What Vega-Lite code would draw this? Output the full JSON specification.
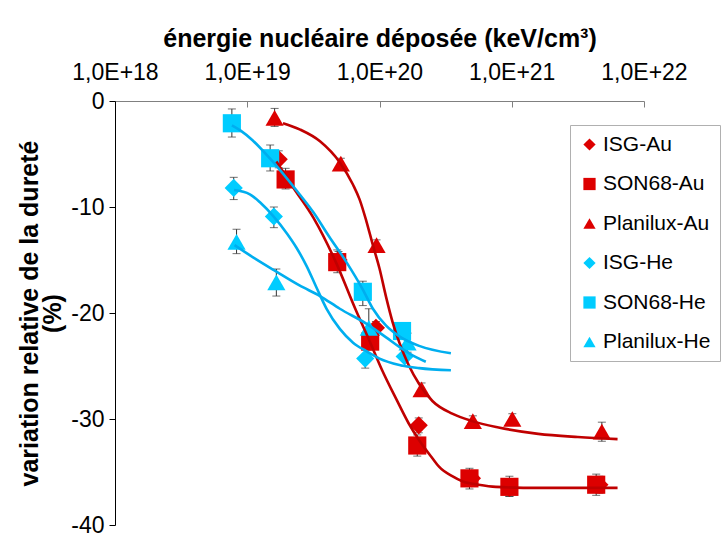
{
  "$schema": "https://vega.github.io/schema/vega-lite/v6.json",
  "width": 529,
  "height": 424,
  "autosize": {"type": "none"},
  "padding": {"left": 115, "top": 101, "right": 84, "bottom": 18},
  "background": "white",
  "config": {"view": {"stroke": null}, "font": "Liberation Sans"},
  "datasets": {
    "pts": [
      {"serie": "ISG-Au", "x": 1.73e19, "y": -5.5, "lo": -6.3, "hi": -4.7},
      {"serie": "ISG-Au", "x": 4.9e19, "y": -15.0, "lo": -15.8, "hi": -14.2},
      {"serie": "ISG-Au", "x": 9.4e19, "y": -21.4, "lo": -22.1, "hi": -20.8},
      {"serie": "ISG-Au", "x": 1.98e20, "y": -30.6, "lo": -31.3, "hi": -29.9},
      {"serie": "ISG-Au", "x": 5.0e20, "y": -35.6, "lo": -36.3, "hi": -34.9},
      {"serie": "ISG-Au", "x": 9.6e20, "y": -36.5, "lo": -37.3, "hi": -35.7},
      {"serie": "ISG-Au", "x": 4.6e21, "y": -36.2, "lo": -37.0, "hi": -35.4},
      {"serie": "SON68-Au", "x": 1.95e19, "y": -7.4, "lo": -8.3, "hi": -6.35},
      {"serie": "SON68-Au", "x": 4.79e19, "y": -15.2, "lo": -16.2, "hi": -14.05},
      {"serie": "SON68-Au", "x": 8.5e19, "y": -22.7, "lo": -23.5, "hi": -21.8},
      {"serie": "SON68-Au", "x": 1.93e20, "y": -32.5, "lo": -33.5, "hi": -31.5},
      {"serie": "SON68-Au", "x": 4.79e20, "y": -35.6, "lo": -36.6, "hi": -34.65},
      {"serie": "SON68-Au", "x": 9.6e20, "y": -36.4, "lo": -37.3, "hi": -35.4},
      {"serie": "SON68-Au", "x": 4.35e21, "y": -36.2, "lo": -37.2, "hi": -35.2},
      {"serie": "Planilux-Au", "x": 1.61e19, "y": -1.6, "lo": -2.4, "hi": -0.7},
      {"serie": "Planilux-Au", "x": 5.1e19, "y": -5.9, "lo": -6.4, "hi": -5.4},
      {"serie": "Planilux-Au", "x": 9.5e19, "y": -13.6, "lo": -14.1, "hi": -13.1},
      {"serie": "Planilux-Au", "x": 2.08e20, "y": -27.2, "lo": -27.8, "hi": -26.6},
      {"serie": "Planilux-Au", "x": 5.08e20, "y": -30.2, "lo": -30.7, "hi": -29.7},
      {"serie": "Planilux-Au", "x": 1.01e21, "y": -30.0, "lo": -30.5, "hi": -29.5},
      {"serie": "Planilux-Au", "x": 4.8e21, "y": -31.2, "lo": -32.1, "hi": -30.3},
      {"serie": "ISG-He", "x": 7.9e18, "y": -8.2, "lo": -9.3, "hi": -7.2},
      {"serie": "ISG-He", "x": 1.59e19, "y": -10.9, "lo": -11.95, "hi": -10.0},
      {"serie": "ISG-He", "x": 7.8e19, "y": -24.3, "lo": -25.2, "hi": -23.4},
      {"serie": "ISG-He", "x": 1.55e20, "y": -24.1, "lo": -25.0, "hi": -23.2},
      {"serie": "SON68-He", "x": 7.65e18, "y": -2.1, "lo": -3.4, "hi": -0.75},
      {"serie": "SON68-He", "x": 1.49e19, "y": -5.4, "lo": -6.6, "hi": -4.15},
      {"serie": "SON68-He", "x": 7.48e19, "y": -18.0, "lo": -19.3, "hi": -17.0},
      {"serie": "SON68-He", "x": 1.48e20, "y": -21.7, "lo": -22.5, "hi": -20.9},
      {"serie": "Planilux-He", "x": 8.3e18, "y": -13.3, "lo": -14.4, "hi": -12.1},
      {"serie": "Planilux-He", "x": 1.66e19, "y": -17.1, "lo": -18.4, "hi": -15.85},
      {"serie": "Planilux-He", "x": 8.3e19, "y": -21.4, "lo": -23.2, "hi": -19.6},
      {"serie": "Planilux-He", "x": 1.63e20, "y": -22.8, "lo": -23.7, "hi": -21.9}
    ],
    "fits": [
      {"fit": "PAu", "grp": "Au", "x": 1.862e19, "y": -2.1},
      {"fit": "PAu", "grp": "Au", "x": 2.512e19, "y": -2.7},
      {"fit": "PAu", "grp": "Au", "x": 3.548e19, "y": -3.8},
      {"fit": "PAu", "grp": "Au", "x": 5.012e19, "y": -5.8},
      {"fit": "PAu", "grp": "Au", "x": 6.310e19, "y": -7.9},
      {"fit": "PAu", "grp": "Au", "x": 7.079e19, "y": -9.3},
      {"fit": "PAu", "grp": "Au", "x": 7.943e19, "y": -11.3},
      {"fit": "PAu", "grp": "Au", "x": 8.913e19, "y": -13.6},
      {"fit": "PAu", "grp": "Au", "x": 1.0e20, "y": -15.8},
      {"fit": "PAu", "grp": "Au", "x": 1.122e20, "y": -18.5},
      {"fit": "PAu", "grp": "Au", "x": 1.259e20, "y": -20.9},
      {"fit": "PAu", "grp": "Au", "x": 1.413e20, "y": -22.8},
      {"fit": "PAu", "grp": "Au", "x": 1.660e20, "y": -24.9},
      {"fit": "PAu", "grp": "Au", "x": 1.995e20, "y": -26.7},
      {"fit": "PAu", "grp": "Au", "x": 2.512e20, "y": -28.3},
      {"fit": "PAu", "grp": "Au", "x": 3.548e20, "y": -29.5},
      {"fit": "PAu", "grp": "Au", "x": 5.012e20, "y": -30.2},
      {"fit": "PAu", "grp": "Au", "x": 7.943e20, "y": -30.8},
      {"fit": "PAu", "grp": "Au", "x": 1.585e21, "y": -31.4},
      {"fit": "PAu", "grp": "Au", "x": 3.162e21, "y": -31.7},
      {"fit": "PAu", "grp": "Au", "x": 6.310e21, "y": -31.9},
      {"fit": "SAu", "grp": "Au", "x": 1.660e19, "y": -5.7},
      {"fit": "SAu", "grp": "Au", "x": 2.239e19, "y": -8.2},
      {"fit": "SAu", "grp": "Au", "x": 3.162e19, "y": -11.0},
      {"fit": "SAu", "grp": "Au", "x": 4.677e19, "y": -15.2},
      {"fit": "SAu", "grp": "Au", "x": 6.607e19, "y": -19.7},
      {"fit": "SAu", "grp": "Au", "x": 8.318e19, "y": -22.5},
      {"fit": "SAu", "grp": "Au", "x": 1.047e20, "y": -25.4},
      {"fit": "SAu", "grp": "Au", "x": 1.349e20, "y": -28.2},
      {"fit": "SAu", "grp": "Au", "x": 1.660e20, "y": -30.4},
      {"fit": "SAu", "grp": "Au", "x": 1.995e20, "y": -32.0},
      {"fit": "SAu", "grp": "Au", "x": 2.512e20, "y": -33.7},
      {"fit": "SAu", "grp": "Au", "x": 2.818e20, "y": -34.5},
      {"fit": "SAu", "grp": "Au", "x": 3.548e20, "y": -35.4},
      {"fit": "SAu", "grp": "Au", "x": 4.266e20, "y": -35.9},
      {"fit": "SAu", "grp": "Au", "x": 5.623e20, "y": -36.2},
      {"fit": "SAu", "grp": "Au", "x": 7.586e20, "y": -36.4},
      {"fit": "SAu", "grp": "Au", "x": 1.585e21, "y": -36.5},
      {"fit": "SAu", "grp": "Au", "x": 6.310e21, "y": -36.5},
      {"fit": "SHe", "grp": "He", "x": 7.656e18, "y": -2.3},
      {"fit": "SHe", "grp": "He", "x": 8.913e18, "y": -2.8},
      {"fit": "SHe", "grp": "He", "x": 1.096e19, "y": -3.7},
      {"fit": "SHe", "grp": "He", "x": 1.479e19, "y": -5.4},
      {"fit": "SHe", "grp": "He", "x": 2.344e19, "y": -8.4},
      {"fit": "SHe", "grp": "He", "x": 3.162e19, "y": -10.5},
      {"fit": "SHe", "grp": "He", "x": 4.169e19, "y": -12.8},
      {"fit": "SHe", "grp": "He", "x": 5.623e19, "y": -15.2},
      {"fit": "SHe", "grp": "He", "x": 7.413e19, "y": -17.7},
      {"fit": "SHe", "grp": "He", "x": 8.913e19, "y": -19.6},
      {"fit": "SHe", "grp": "He", "x": 1.122e20, "y": -21.2},
      {"fit": "SHe", "grp": "He", "x": 1.413e20, "y": -22.2},
      {"fit": "SHe", "grp": "He", "x": 1.995e20, "y": -23.1},
      {"fit": "SHe", "grp": "He", "x": 3.467e20, "y": -23.8},
      {"fit": "IHe", "grp": "He", "x": 7.943e18, "y": -8.4},
      {"fit": "IHe", "grp": "He", "x": 1.047e19, "y": -8.8},
      {"fit": "IHe", "grp": "He", "x": 1.259e19, "y": -9.6},
      {"fit": "IHe", "grp": "He", "x": 1.585e19, "y": -10.9},
      {"fit": "IHe", "grp": "He", "x": 1.995e19, "y": -12.5},
      {"fit": "IHe", "grp": "He", "x": 2.344e19, "y": -13.8},
      {"fit": "IHe", "grp": "He", "x": 2.818e19, "y": -15.6},
      {"fit": "IHe", "grp": "He", "x": 3.311e19, "y": -17.5},
      {"fit": "IHe", "grp": "He", "x": 3.981e19, "y": -19.6},
      {"fit": "IHe", "grp": "He", "x": 5.012e19, "y": -21.5},
      {"fit": "IHe", "grp": "He", "x": 6.310e19, "y": -22.8},
      {"fit": "IHe", "grp": "He", "x": 7.943e19, "y": -23.6},
      {"fit": "IHe", "grp": "He", "x": 1.0e20, "y": -24.3},
      {"fit": "IHe", "grp": "He", "x": 1.413e20, "y": -24.9},
      {"fit": "IHe", "grp": "He", "x": 1.995e20, "y": -25.2},
      {"fit": "IHe", "grp": "He", "x": 3.467e20, "y": -25.4},
      {"fit": "PHe", "grp": "He", "x": 8.017e18, "y": -13.6},
      {"fit": "PHe", "grp": "He", "x": 1.122e19, "y": -14.8},
      {"fit": "PHe", "grp": "He", "x": 1.660e19, "y": -16.1},
      {"fit": "PHe", "grp": "He", "x": 2.483e19, "y": -17.4},
      {"fit": "PHe", "grp": "He", "x": 3.548e19, "y": -18.4},
      {"fit": "PHe", "grp": "He", "x": 5.012e19, "y": -19.6},
      {"fit": "PHe", "grp": "He", "x": 7.943e19, "y": -21.0},
      {"fit": "PHe", "grp": "He", "x": 1.122e20, "y": -22.3},
      {"fit": "PHe", "grp": "He", "x": 1.413e20, "y": -23.2},
      {"fit": "PHe", "grp": "He", "x": 1.778e20, "y": -24.0},
      {"fit": "PHe", "grp": "He", "x": 2.239e20, "y": -24.6}
    ]
  },
  "encoding": {
    "x": {
      "field": "x",
      "type": "quantitative",
      "scale": {"type": "log", "domain": [1e18, 1e22]},
      "axis": {
        "orient": "top",
        "values": [1e18, 1e19, 1e20, 1e21, 1e22],
        "labelExpr": "'1,0E+' + round(log(datum.value)/LN10)",
        "title": "énergie nucléaire déposée (keV/cm³)",
        "titleFont": "Liberation Sans",
        "titleFontSize": 25,
        "titleFontWeight": "bold",
        "titleColor": "black",
        "titlePadding": 10,
        "labelFont": "Liberation Sans",
        "labelFontSize": 23,
        "labelColor": "black",
        "labelFlush": false,
        "labelPadding": 23,
        "domainColor": "#808080",
        "tickColor": "#808080",
        "tickSize": -6,
        "grid": false
      }
    },
    "y": {
      "field": "y",
      "type": "quantitative",
      "scale": {"domain": [-40, 0], "nice": false},
      "axis": {
        "values": [0, -10, -20, -30, -40],
        "labelExpr": "datum.value < 0 ? '-' + (-datum.value) : '' + datum.value",
        "title": ["variation relative de la dureté", "(%)"],
        "titleFont": "Liberation Sans",
        "titleFontSize": 25,
        "titleFontWeight": "bold",
        "titleColor": "black",
        "titleLineHeight": 23,
        "titlePadding": 5,
        "labelFont": "Liberation Sans",
        "labelFontSize": 23,
        "labelColor": "black",
        "labelFlush": false,
        "labelPadding": 5,
        "domainColor": "black",
        "tickColor": "black",
        "tickSize": 6,
        "grid": false
      }
    }
  },
  "layer": [
    {
      "data": {"name": "pts"},
      "mark": {"type": "errorbar", "color": "#333333", "thickness": 1, "ticks": true, "size": 8},
      "encoding": {
        "y": {"field": "lo", "type": "quantitative", "scale": {"domain": [-40, 0], "nice": false}},
        "y2": {"field": "hi"}
      }
    },
    {
      "data": {"name": "pts"},
      "mark": {"type": "point", "filled": true, "opacity": 1, "size": 330},
      "encoding": {
        "color": {
          "field": "serie",
          "type": "nominal",
          "sort": null,
          "scale": {
            "domain": ["ISG-Au", "SON68-Au", "Planilux-Au", "ISG-He", "SON68-He", "Planilux-He"],
            "range": ["#DD0000", "#DD0000", "#DD0000", "#00CCFF", "#00CCFF", "#00CCFF"]
          },
          "legend": {
            "title": null,
            "orient": "none",
            "legendX": 455,
            "legendY": 24,
            "strokeColor": "#b0b0b0",
            "fillColor": "white",
            "padding": 9,
            "labelFont": "Liberation Sans",
            "labelFontSize": 21,
            "labelColor": "black",
            "labelOffset": 3,
            "symbolSize": 150,
            "rowPadding": 17.5,
            "symbolStrokeWidth": 0
          }
        },
        "shape": {
          "field": "serie",
          "type": "nominal",
          "sort": null,
          "scale": {
            "domain": ["ISG-Au", "SON68-Au", "Planilux-Au", "ISG-He", "SON68-He", "Planilux-He"],
            "range": ["diamond", "square", "triangle-up", "diamond", "square", "triangle-up"]
          },
          "legend": {
            "title": null,
            "orient": "none",
            "legendX": 455,
            "legendY": 24,
            "strokeColor": "#b0b0b0",
            "fillColor": "white",
            "padding": 9,
            "labelFont": "Liberation Sans",
            "labelFontSize": 21,
            "labelColor": "black",
            "labelOffset": 3,
            "symbolSize": 150,
            "rowPadding": 17.5,
            "symbolStrokeWidth": 0
          }
        }
      }
    },
    {
      "data": {"name": "fits"},
      "transform": [{"filter": "datum.grp == 'Au'"}],
      "mark": {"type": "line", "color": "#C00000", "strokeWidth": 2.6, "interpolate": "monotone"},
      "encoding": {"detail": {"field": "fit"}}
    },
    {
      "data": {"name": "fits"},
      "transform": [{"filter": "datum.grp == 'He'"}],
      "mark": {"type": "line", "color": "#00AEEF", "strokeWidth": 2.6, "interpolate": "monotone"},
      "encoding": {"detail": {"field": "fit"}}
    }
  ]
}
